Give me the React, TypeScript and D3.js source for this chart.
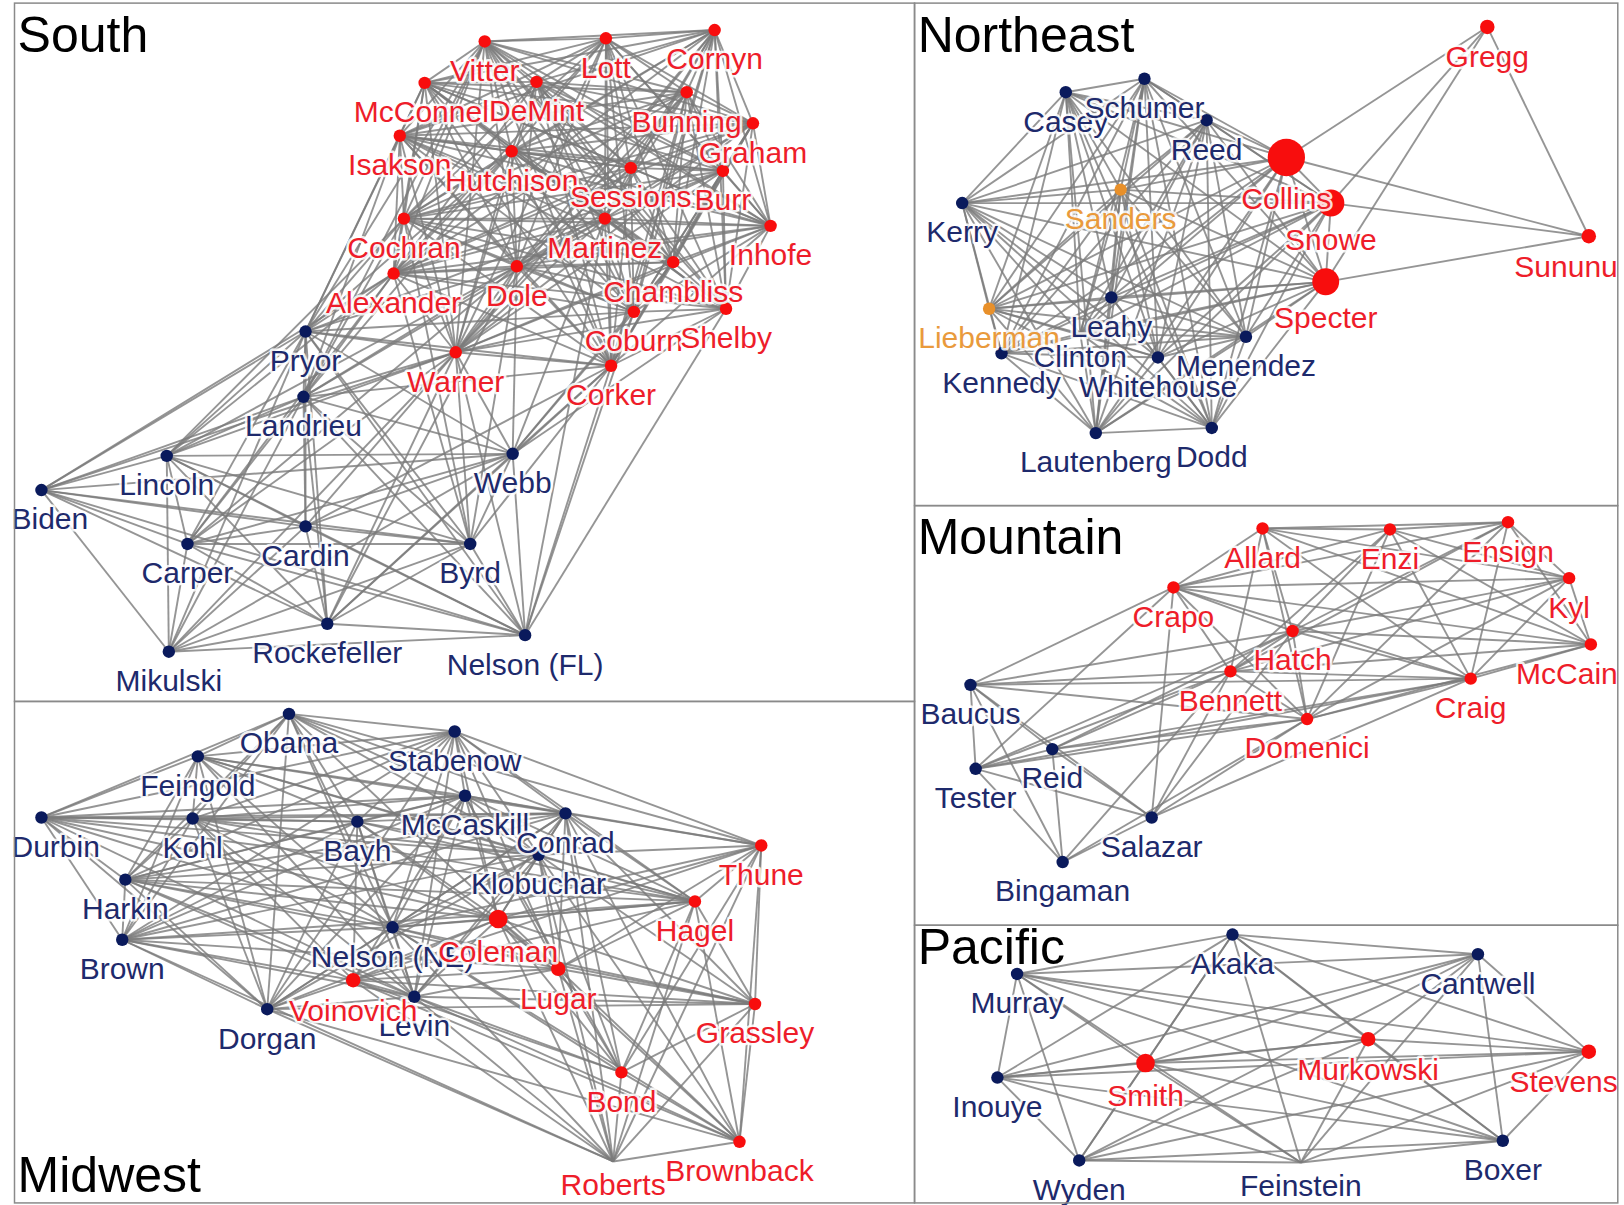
import React, { useEffect, useRef } from 'react';
import * as d3 from 'd3';

const REF_W = 1568;
const REF_H = 1163;
const W = 1624;
const H = 1205;

type Party = 'R' | 'D' | 'I';
interface Senator { name: string; party: Party; x: number; y: number; size?: number }

const southSenators: Senator[] = [
    { name: 'Vitter', party: 'R', x: 454, y: 37 },
    { name: 'Lott', party: 'R', x: 571, y: 34 },
    { name: 'Cornyn', party: 'R', x: 676, y: 26 },
    { name: 'McConnell', party: 'R', x: 396, y: 77 },
    { name: 'DeMint', party: 'R', x: 504, y: 76 },
    { name: 'Bunning', party: 'R', x: 649, y: 86 },
    { name: 'Graham', party: 'R', x: 713, y: 116 },
    { name: 'Isakson', party: 'R', x: 372, y: 128 },
    { name: 'Hutchison', party: 'R', x: 480, y: 143 },
    { name: 'Sessions', party: 'R', x: 595, y: 159 },
    { name: 'Burr', party: 'R', x: 684, y: 162 },
    { name: 'Inhofe', party: 'R', x: 730, y: 215 },
    { name: 'Cochran', party: 'R', x: 376, y: 208 },
    { name: 'Martinez', party: 'R', x: 570, y: 208 },
    { name: 'Alexander', party: 'R', x: 366, y: 261 },
    { name: 'Dole', party: 'R', x: 485, y: 254 },
    { name: 'Chambliss', party: 'R', x: 636, y: 250 },
    { name: 'Coburn', party: 'R', x: 598, y: 298 },
    { name: 'Shelby', party: 'R', x: 687, y: 295 },
    { name: 'Warner', party: 'R', x: 426, y: 337 },
    { name: 'Corker', party: 'R', x: 576, y: 350 },
    { name: 'Pryor', party: 'D', x: 281, y: 317 },
    { name: 'Landrieu', party: 'D', x: 279, y: 380 },
    { name: 'Lincoln', party: 'D', x: 147, y: 437 },
    { name: 'Webb', party: 'D', x: 481, y: 435 },
    { name: 'Biden', party: 'D', x: 26, y: 470 },
    { name: 'Cardin', party: 'D', x: 281, y: 505 },
    { name: 'Carper', party: 'D', x: 167, y: 522 },
    { name: 'Byrd', party: 'D', x: 440, y: 522 },
    { name: 'Rockefeller', party: 'D', x: 302, y: 599 },
    { name: 'Nelson (FL)', party: 'D', x: 493, y: 610 },
    { name: 'Mikulski', party: 'D', x: 149, y: 626 },
];
const southBlocs: string[][] = [
    ['Vitter', 'Lott', 'Cornyn', 'McConnell', 'DeMint', 'Bunning', 'Graham', 'Isakson', 'Hutchison', 'Sessions', 'Burr',
        'Inhofe', 'Cochran', 'Martinez', 'Alexander', 'Dole', 'Chambliss', 'Coburn', 'Shelby', 'Warner', 'Corker'],
    ['Pryor', 'Landrieu', 'Lincoln', 'Webb', 'Biden', 'Cardin', 'Carper', 'Byrd', 'Rockefeller', 'Nelson (FL)', 'Mikulski'],
];
const southLinks: string[] = [
    'Pryor|Alexander', 'Pryor|Cochran', 'Pryor|Isakson', 'Pryor|Warner', 'Pryor|Dole', 'Pryor|Hutchison', 'Pryor|Vitter',
    'Pryor|Martinez', 'Pryor|Corker', 'Pryor|McConnell', 'Pryor|Coburn',
    'Landrieu|Alexander', 'Landrieu|Cochran', 'Landrieu|Warner', 'Landrieu|Dole', 'Landrieu|Isakson', 'Landrieu|Corker',
    'Landrieu|Martinez', 'Landrieu|Hutchison', 'Landrieu|Vitter',
    'Lincoln|Warner', 'Lincoln|Alexander', 'Lincoln|Cochran', 'Lincoln|Dole',
    'Biden|Alexander', 'Biden|Warner',
    'Webb|Warner', 'Webb|Corker', 'Webb|Dole', 'Webb|Shelby', 'Webb|Martinez', 'Webb|Chambliss', 'Webb|Coburn',
    'Byrd|Warner', 'Byrd|Corker', 'Byrd|Dole', 'Byrd|Alexander', 'Byrd|Cochran',
    'Nelson (FL)|Warner', 'Nelson (FL)|Corker', 'Nelson (FL)|Martinez', 'Nelson (FL)|Coburn', 'Nelson (FL)|Shelby',
    'Rockefeller|Warner', 'Rockefeller|Corker', 'Rockefeller|Dole',
    'Cardin|Warner', 'Cardin|Corker',
    'Carper|Warner', 'Carper|Alexander', 'Carper|Dole',
    'Mikulski|Warner',
];

const midwestSenators: Senator[] = [
    { name: 'Obama', party: 'D', x: 265, y: 12 },
    { name: 'Feingold', party: 'D', x: 177, y: 53 },
    { name: 'Stabenow', party: 'D', x: 425, y: 29 },
    { name: 'Durbin', party: 'D', x: 26, y: 112 },
    { name: 'Kohl', party: 'D', x: 172, y: 113 },
    { name: 'Bayh', party: 'D', x: 331, y: 116 },
    { name: 'McCaskill', party: 'D', x: 435, y: 91 },
    { name: 'Conrad', party: 'D', x: 532, y: 108 },
    { name: 'Klobuchar', party: 'D', x: 506, y: 148 },
    { name: 'Harkin', party: 'D', x: 107, y: 172 },
    { name: 'Brown', party: 'D', x: 104, y: 230 },
    { name: 'Nelson (NE)', party: 'D', x: 365, y: 218 },
    { name: 'Dorgan', party: 'D', x: 244, y: 297 },
    { name: 'Levin', party: 'D', x: 386, y: 285 },
    { name: 'Coleman', party: 'R', x: 467, y: 210, size: 9 },
    { name: 'Lugar', party: 'R', x: 525, y: 258, size: 7 },
    { name: 'Voinovich', party: 'R', x: 327, y: 269, size: 7 },
    { name: 'Thune', party: 'R', x: 721, y: 139 },
    { name: 'Hagel', party: 'R', x: 657, y: 193 },
    { name: 'Grassley', party: 'R', x: 715, y: 292 },
    { name: 'Bond', party: 'R', x: 586, y: 358 },
    { name: 'Brownback', party: 'R', x: 700, y: 425 },
    { name: 'Roberts', party: 'R', x: 578, y: 444, size: 0 },
];
const midwestBlocs: string[][] = [
    ['Obama', 'Feingold', 'Stabenow', 'Durbin', 'Kohl', 'Bayh', 'McCaskill', 'Conrad', 'Klobuchar', 'Harkin', 'Brown',
        'Nelson (NE)', 'Dorgan', 'Levin'],
    ['Coleman', 'Lugar', 'Voinovich', 'Thune', 'Hagel', 'Grassley', 'Bond', 'Brownback', 'Roberts'],
];
const midwestLinks: string[] = [
    'Coleman|Nelson (NE)', 'Coleman|Klobuchar', 'Coleman|Conrad', 'Coleman|Bayh', 'Coleman|McCaskill', 'Coleman|Levin',
    'Coleman|Kohl', 'Coleman|Stabenow', 'Coleman|Dorgan', 'Coleman|Harkin', 'Coleman|Durbin',
    'Lugar|Nelson (NE)', 'Lugar|Klobuchar', 'Lugar|Bayh', 'Lugar|McCaskill', 'Lugar|Conrad', 'Lugar|Levin', 'Lugar|Stabenow',
    'Lugar|Obama', 'Lugar|Brown',
    'Voinovich|Dorgan', 'Voinovich|Levin', 'Voinovich|Nelson (NE)', 'Voinovich|Brown', 'Voinovich|Harkin', 'Voinovich|Bayh',
    'Voinovich|Kohl', 'Voinovich|McCaskill',
    'Hagel|Conrad', 'Hagel|Klobuchar', 'Hagel|McCaskill', 'Hagel|Nelson (NE)', 'Hagel|Bayh', 'Hagel|Kohl', 'Hagel|Harkin',
    'Hagel|Feingold', 'Hagel|Stabenow', 'Hagel|Durbin', 'Hagel|Brown',
    'Thune|Conrad', 'Thune|Klobuchar', 'Thune|Stabenow', 'Thune|McCaskill', 'Thune|Nelson (NE)', 'Thune|Obama',
    'Grassley|Harkin', 'Grassley|Levin', 'Grassley|Nelson (NE)', 'Grassley|Conrad', 'Grassley|Klobuchar', 'Grassley|Dorgan',
    'Bond|McCaskill', 'Bond|Nelson (NE)', 'Bond|Klobuchar', 'Bond|Conrad', 'Bond|Levin',
    'Brownback|Nelson (NE)', 'Brownback|Levin', 'Brownback|Dorgan', 'Brownback|Conrad', 'Brownback|Klobuchar',
    'Roberts|Dorgan', 'Roberts|Nelson (NE)', 'Roberts|Levin', 'Roberts|Brown', 'Roberts|Klobuchar', 'Roberts|Conrad',
];

const northeastSenators: Senator[] = [
    { name: 'Casey', party: 'D', x: 146, y: 86 },
    { name: 'Schumer', party: 'D', x: 222, y: 73 },
    { name: 'Reed', party: 'D', x: 282, y: 113 },
    { name: 'Kerry', party: 'D', x: 46, y: 193 },
    { name: 'Sanders', party: 'I', x: 199, y: 180 },
    { name: 'Collins', party: 'R', x: 359, y: 149, size: 18 },
    { name: 'Snowe', party: 'R', x: 402, y: 193, size: 13 },
    { name: 'Specter', party: 'R', x: 397, y: 269, size: 13 },
    { name: 'Gregg', party: 'R', x: 553, y: 23, size: 7 },
    { name: 'Sununu', party: 'R', x: 651, y: 225, size: 7 },
    { name: 'Lieberman', party: 'I', x: 72, y: 295 },
    { name: 'Leahy', party: 'D', x: 190, y: 284 },
    { name: 'Menendez', party: 'D', x: 320, y: 322 },
    { name: 'Kennedy', party: 'D', x: 84, y: 338 },
    { name: 'Clinton', party: 'D', x: 160, y: 319, size: 0 },
    { name: 'Whitehouse', party: 'D', x: 235, y: 342 },
    { name: 'Lautenberg', party: 'D', x: 175, y: 415 },
    { name: 'Dodd', party: 'D', x: 287, y: 410 },
];
const northeastBlocs: string[][] = [
    ['Casey', 'Schumer', 'Reed', 'Kerry', 'Sanders', 'Lieberman', 'Leahy', 'Menendez', 'Kennedy', 'Clinton', 'Whitehouse',
        'Lautenberg', 'Dodd', 'Collins', 'Snowe', 'Specter'],
    ['Collins', 'Snowe', 'Specter', 'Sununu'],
];
const northeastLinks: string[] = [
    'Gregg|Collins', 'Gregg|Snowe', 'Gregg|Specter', 'Gregg|Sununu',
];

const mountainSenators: Senator[] = [
    { name: 'Allard', party: 'R', x: 336, y: 22 },
    { name: 'Enzi', party: 'R', x: 459, y: 23 },
    { name: 'Ensign', party: 'R', x: 573, y: 16 },
    { name: 'Crapo', party: 'R', x: 250, y: 79 },
    { name: 'Kyl', party: 'R', x: 632, y: 70 },
    { name: 'Hatch', party: 'R', x: 365, y: 121 },
    { name: 'McCain', party: 'R', x: 653, y: 134 },
    { name: 'Bennett', party: 'R', x: 305, y: 160 },
    { name: 'Craig', party: 'R', x: 537, y: 167 },
    { name: 'Domenici', party: 'R', x: 379, y: 206 },
    { name: 'Baucus', party: 'D', x: 54, y: 173 },
    { name: 'Reid', party: 'D', x: 133, y: 235 },
    { name: 'Tester', party: 'D', x: 59, y: 254 },
    { name: 'Salazar', party: 'D', x: 229, y: 301 },
    { name: 'Bingaman', party: 'D', x: 143, y: 344 },
];
const mountainBlocs: string[][] = [
    ['Allard', 'Enzi', 'Ensign', 'Crapo', 'Kyl', 'Hatch', 'McCain', 'Bennett', 'Craig', 'Domenici'],
    ['Baucus', 'Reid', 'Tester', 'Salazar', 'Bingaman'],
];
const mountainLinks: string[] = [
    'Baucus|Crapo', 'Baucus|Hatch', 'Baucus|Bennett', 'Baucus|Domenici', 'Baucus|Craig',
    'Tester|Crapo', 'Tester|Hatch', 'Tester|Bennett', 'Tester|Domenici', 'Tester|Craig',
    'Reid|Bennett', 'Reid|Domenici', 'Reid|Hatch', 'Reid|Craig',
    'Salazar|Bennett', 'Salazar|Hatch', 'Salazar|Domenici', 'Salazar|Craig', 'Salazar|Crapo',
    'Bingaman|Domenici', 'Bingaman|Bennett',
];

const pacificSenators: Senator[] = [
    { name: 'Akaka', party: 'D', x: 307, y: 9 },
    { name: 'Cantwell', party: 'D', x: 544, y: 28 },
    { name: 'Murray', party: 'D', x: 99, y: 47 },
    { name: 'Murkowski', party: 'R', x: 438, y: 110, size: 7 },
    { name: 'Smith', party: 'R', x: 223, y: 133, size: 9 },
    { name: 'Stevens', party: 'R', x: 651, y: 122, size: 7 },
    { name: 'Inouye', party: 'D', x: 80, y: 147 },
    { name: 'Boxer', party: 'D', x: 568, y: 208 },
    { name: 'Wyden', party: 'D', x: 159, y: 227 },
    { name: 'Feinstein', party: 'D', x: 373, y: 229, size: 0 },
];
const pacificBlocs: string[][] = [
    ['Akaka', 'Cantwell', 'Murray', 'Murkowski', 'Smith', 'Stevens', 'Inouye', 'Boxer', 'Wyden', 'Feinstein'],
];
const pacificLinks: string[] = [];

const panels = [
    { title: 'South', box: [14, 3, 883, 677], titlePos: [17, 50], senators: southSenators, blocs: southBlocs, links: southLinks },
    { title: 'Midwest', box: [14, 677, 883, 1161], titlePos: [17, 1150], senators: midwestSenators, blocs: midwestBlocs, links: midwestLinks },
    { title: 'Northeast', box: [883, 3, 1562, 488], titlePos: [886, 50], senators: northeastSenators, blocs: northeastBlocs, links: northeastLinks },
    { title: 'Mountain', box: [883, 488, 1562, 893], titlePos: [886, 535], senators: mountainSenators, blocs: mountainBlocs, links: mountainLinks },
    { title: 'Pacific', box: [883, 893, 1562, 1161], titlePos: [886, 930], senators: pacificSenators, blocs: pacificBlocs, links: pacificLinks },
];

const nodeColor: Record<Party, string> = { R: '#f80d0d', D: '#0a1a5c', I: '#e8902a' };
const labelColor: Record<Party, string> = { R: '#ee1d2a', D: '#1e2a6c', I: '#e99a3c' };

const App: React.FC = () => {
    const svgRef = useRef<SVGSVGElement>(null);

    useEffect(() => {
        const svg = d3.select(svgRef.current);
        svg.selectAll('*').remove();

        const gx = d3.scaleLinear().domain([0, REF_W]).range([0, W]);
        const gy = d3.scaleLinear().domain([0, REF_H]).range([0, H]);
        const k = W / REF_W;

        const edgeLayer = svg.append('g');
        const nodeLayer = svg.append('g');
        const labelLayer = svg.append('g');
        const frameLayer = svg.append('g');

        panels.forEach(p => {
            const [x0, y0, x1, y1] = p.box;
            const sx = d3.scaleLinear().domain([0, x1 - x0]).range([gx(x0), gx(x1)]);
            const sy = d3.scaleLinear().domain([0, y1 - y0]).range([gy(y0), gy(y1)]);
            const byName = new Map(p.senators.map(s => [s.name, s]));

            // edges: every pair inside a voting bloc, plus the cross links
            const pairs = new Set<string>();
            p.blocs.forEach(bloc => {
                bloc.forEach((a, i) => bloc.slice(i + 1).forEach(b => pairs.add(`${a}|${b}`)));
            });
            p.links.forEach(l => pairs.add(l));
            const edges = Array.from(pairs).map(s => s.split('|').map(n => byName.get(n)!));

            edgeLayer.append('g')
                .selectAll('line')
                .data(edges)
                .enter()
                .append('line')
                .attr('x1', d => sx(d[0].x))
                .attr('y1', d => sy(d[0].y))
                .attr('x2', d => sx(d[1].x))
                .attr('y2', d => sy(d[1].y))
                .attr('stroke', '#7a7a7a')
                .attr('stroke-opacity', 0.8)
                .attr('stroke-width', 1.9);

            nodeLayer.append('g')
                .selectAll('circle')
                .data(p.senators.filter(s => (s.size ?? 6) > 0))
                .enter()
                .append('circle')
                .attr('cx', d => sx(d.x))
                .attr('cy', d => sy(d.y))
                .attr('r', d => (d.size ?? 6) * k)
                .attr('fill', d => nodeColor[d.party]);

            const left = gx(x0) - 3;
            const right = gx(x1);
            labelLayer.append('g')
                .selectAll('text')
                .data(p.senators)
                .enter()
                .append('text')
                .attr('x', d => sx(d.x))
                .attr('y', d => sy(d.y + (d.size ?? 6) + 32))
                .attr('text-anchor', 'middle')
                .attr('font-family', '"Liberation Sans", Arial, sans-serif')
                .attr('font-size', 30)
                .attr('fill', d => labelColor[d.party])
                .attr('stroke', '#fff')
                .attr('stroke-width', 5)
                .attr('stroke-opacity', 0.85)
                .attr('stroke-linejoin', 'round')
                .attr('paint-order', 'stroke')
                .text(d => d.name)
                .each(function (d) {
                    // keep labels inside their panel
                    const w = (this as SVGTextElement).getComputedTextLength();
                    const cx = sx(d.x);
                    const nx = Math.max(left + w / 2, Math.min(right - w / 2, cx));
                    d3.select(this).attr('x', nx);
                });

            frameLayer.append('rect')
                .attr('x', gx(x0))
                .attr('y', gy(y0))
                .attr('width', gx(x1) - gx(x0))
                .attr('height', gy(y1) - gy(y0))
                .attr('fill', 'none')
                .attr('stroke', '#8a8a8a')
                .attr('stroke-width', 1.5);

            frameLayer.append('text')
                .attr('x', gx(p.titlePos[0]))
                .attr('y', gy(p.titlePos[1]))
                .attr('font-family', '"Liberation Sans", Arial, sans-serif')
                .attr('font-size', 50)
                .attr('fill', '#000')
                .text(p.title);
        });
    }, []);

    return (
        <div style={{ background: '#fff' }}>
            <style>{'body{margin:0;background:#fff}'}</style>
            <svg ref={svgRef} width={W} height={H} style={{ display: 'block' }}></svg>
        </div>
    );
};

export default App;
